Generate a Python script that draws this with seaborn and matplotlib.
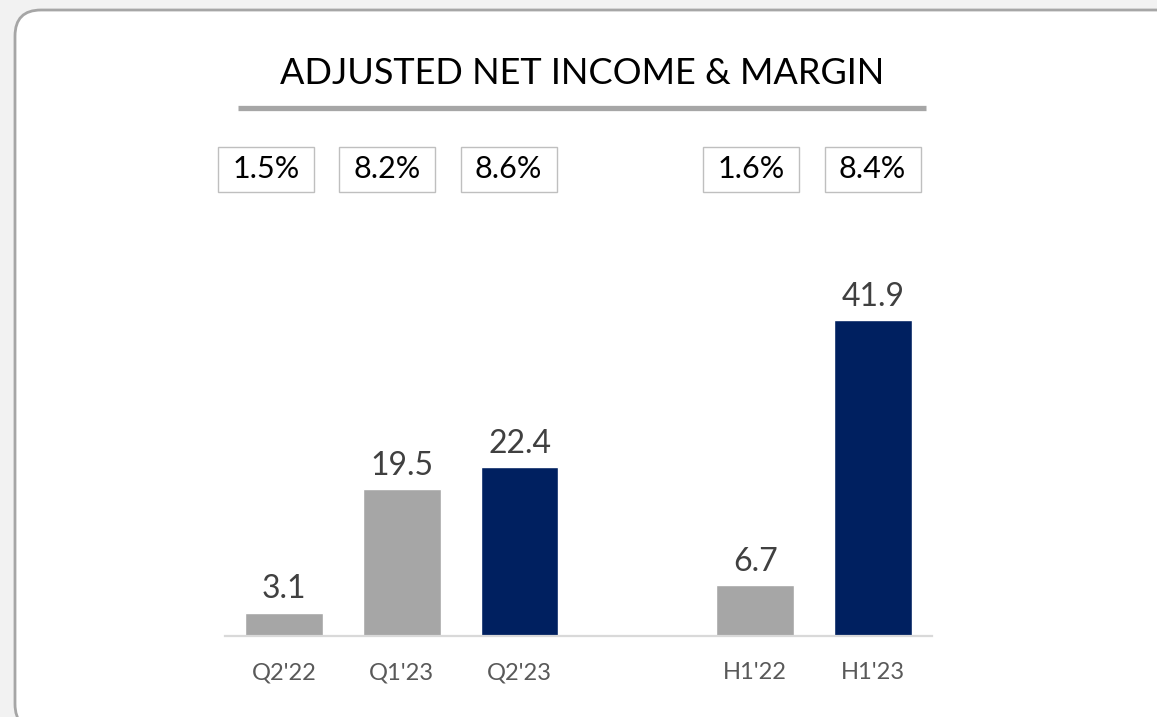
import matplotlib
matplotlib.use("Agg")
import matplotlib.pyplot as plt
import matplotlib.transforms as mtransforms
from matplotlib.patches import FancyBboxPatch, Rectangle
import seaborn as sns
import pandas as pd

# data
periods = ["Q2'22", "Q1'23", "Q2'23", "H1'22", "H1'23"]
groups = ["quarter", "quarter", "quarter", "half", "half"]
kind = ["prior", "prior", "current", "prior", "current"]
net_income = [3.1, 19.5, 22.4, 6.7, 41.9]
margin_pct = [1.5, 8.2, 8.6, 1.6, 8.4]

sns.set_theme(style="white")
plt.rcParams['font.family'] = ['Lato', 'DejaVu Sans']

W, H = 1157, 717
fig = plt.figure(figsize=(W / 100, H / 100), dpi=100)
fig.patch.set_facecolor("#f2f2f2")

# background panel in pixel coords
bg = fig.add_axes([0, 0, 1, 1])
bg.set_xlim(0, W)
bg.set_ylim(H, 0)
bg.axis("off")
bg.add_patch(FancyBboxPatch((15, 10), 1180, 720, boxstyle="round,pad=0,rounding_size=26",
                            fc="white", ec="#a6a6a6", lw=2))
bg.text(582, 74, "ADJUSTED NET INCOME & MARGIN", ha="center", va="center",
        fontsize=26, color="black")
bg.plot([238, 926], [108, 108], color="#a6a6a6", lw=3.8, solid_capstyle="butt")

# bar positions: leave one empty slot between the quarter and half-year groups
pos = []
g_prev, gap = None, 0
for i, g in enumerate(groups):
    if g_prev is not None and g != g_prev:
        gap += 1
    pos.append(i + gap)
    g_prev = g

df = pd.DataFrame({"pos": pos, "period": periods, "kind": kind, "income": net_income})

ax = fig.add_axes([225 / W, (H - 636) / H, 707 / W, 386 / H])
ax.patch.set_alpha(0)
sns.barplot(data=df, x="pos", y="income", hue="kind", native_scale=True, dodge=False,
            palette={"prior": "#a6a6a6", "current": "#002060"}, width=0.66,
            legend=False, ax=ax, saturation=1)
ax.set_xlim(-0.5, max(pos) + 0.5)
ax.set_ylim(0, 386 / 7.54)
for c in ax.containers:
    ax.bar_label(c, fmt="%.1f", padding=6, fontsize=23, color="#404040")

ax.set_xticks(pos)
ax.set_xticklabels(periods, fontsize=17, color="#595959")
ax.tick_params(axis="x", length=0, pad=19)
ax.set_yticks([])
ax.set_xlabel("")
ax.set_ylabel("")
for s in ["top", "left", "right"]:
    ax.spines[s].set_visible(False)
ax.spines["bottom"].set_color("#d9d9d9")
ax.spines["bottom"].set_linewidth(1.6)

# margin boxes above the bars (laid out on a slightly wider grid than the bars)
tr = mtransforms.blended_transform_factory(ax.transData, fig.transFigure)
box_w = 96 / 118
for p, m in zip(pos, margin_pct):
    cx = -0.1525 + 1.0297 * p
    ax.add_patch(Rectangle((cx - box_w / 2, (H - 192) / H), box_w, 45 / H, transform=tr,
                           fc="white", ec="#bfbfbf", lw=1, clip_on=False))
    ax.text(cx, (H - 169.5) / H, f"{m:.1f}%", transform=tr, ha="center", va="center",
            fontsize=22, color="black")

fig.savefig("out.png", dpi=100, facecolor=fig.get_facecolor())
